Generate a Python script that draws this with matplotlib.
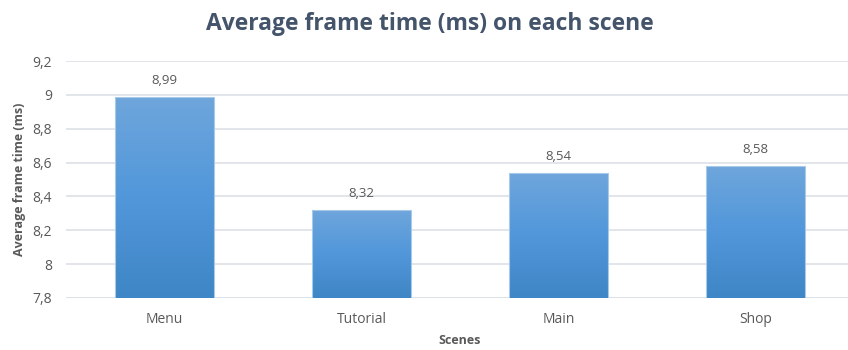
import numpy as np
import matplotlib.pyplot as plt
from matplotlib.ticker import FuncFormatter

# data
scenes = ['Menu', 'Tutorial', 'Main', 'Shop']
frame_ms = [8.99, 8.32, 8.54, 8.58]
yticks = [7.8, 8.0, 8.2, 8.4, 8.6, 8.8, 9.0, 9.2]

plt.rcParams['font.family'] = ['Open Sans', 'DejaVu Sans']

fig = plt.figure(figsize=(8.48, 3.5), dpi=100)
# plot area runs a little past the right edge, as in the source picture
ax = fig.add_axes([0.0778, 0.1486, 0.9292, 0.6771])

x = np.arange(len(scenes))
bars = ax.bar(x, frame_ms, width=0.5, bottom=0, color='none',
              edgecolor='#a9c9e8', linewidth=0.8, zorder=3)

# vertical gradient fill in each bar
grad = np.linspace(0, 1, 256).reshape(-1, 1)
cmap = plt.matplotlib.colors.LinearSegmentedColormap.from_list(
    'bar', ['#3f86c6', '#5197da', '#6fa6dc'])
for b in bars:
    x0, w, h = b.get_x(), b.get_width(), b.get_height()
    im = ax.imshow(grad, extent=[x0, x0 + w, 7.8, h], origin='lower',
                   cmap=cmap, aspect='auto', zorder=2)
    im.set_clip_path(b)

for xi, v in zip(x, frame_ms):
    ax.annotate(('%.2f' % v).replace('.', ','), (xi, v), xytext=(0, 7),
                textcoords='offset points', ha='center', va='bottom',
                fontsize=9.5, color='#595959')

ax.set_xlim(-0.5, len(scenes) - 0.5)
ax.set_ylim(7.8, 9.2)
ax.set_yticks(yticks)
ax.yaxis.set_major_formatter(FuncFormatter(lambda v, p: ('%g' % round(v, 1)).replace('.', ',')))
ax.set_xticks(x)
ax.set_xticklabels(scenes)
ax.tick_params(length=0, labelsize=10, colors='#595959')
ax.tick_params(axis='x', pad=10)
ax.tick_params(axis='y', pad=10)
ax.grid(axis='y', color='#dde1e8', linewidth=1.2, zorder=0)
for s in ax.spines.values():
    s.set_visible(False)
ax.axhline(7.8, color='#d9dde4', linewidth=1.4, zorder=1)

ax.set_xlabel('Scenes', fontsize=9, fontweight='bold', color='#595959', labelpad=5)
ax.set_ylabel('Average frame time (ms)', fontsize=9, fontweight='bold',
              color='#595959', labelpad=5)
fig.text(0.507, 0.93, 'Average frame time (ms) on each scene', ha='center',
         va='center', fontsize=16.5, fontweight='bold', color='#44546a')

fig.savefig('out.png', dpi=100)
